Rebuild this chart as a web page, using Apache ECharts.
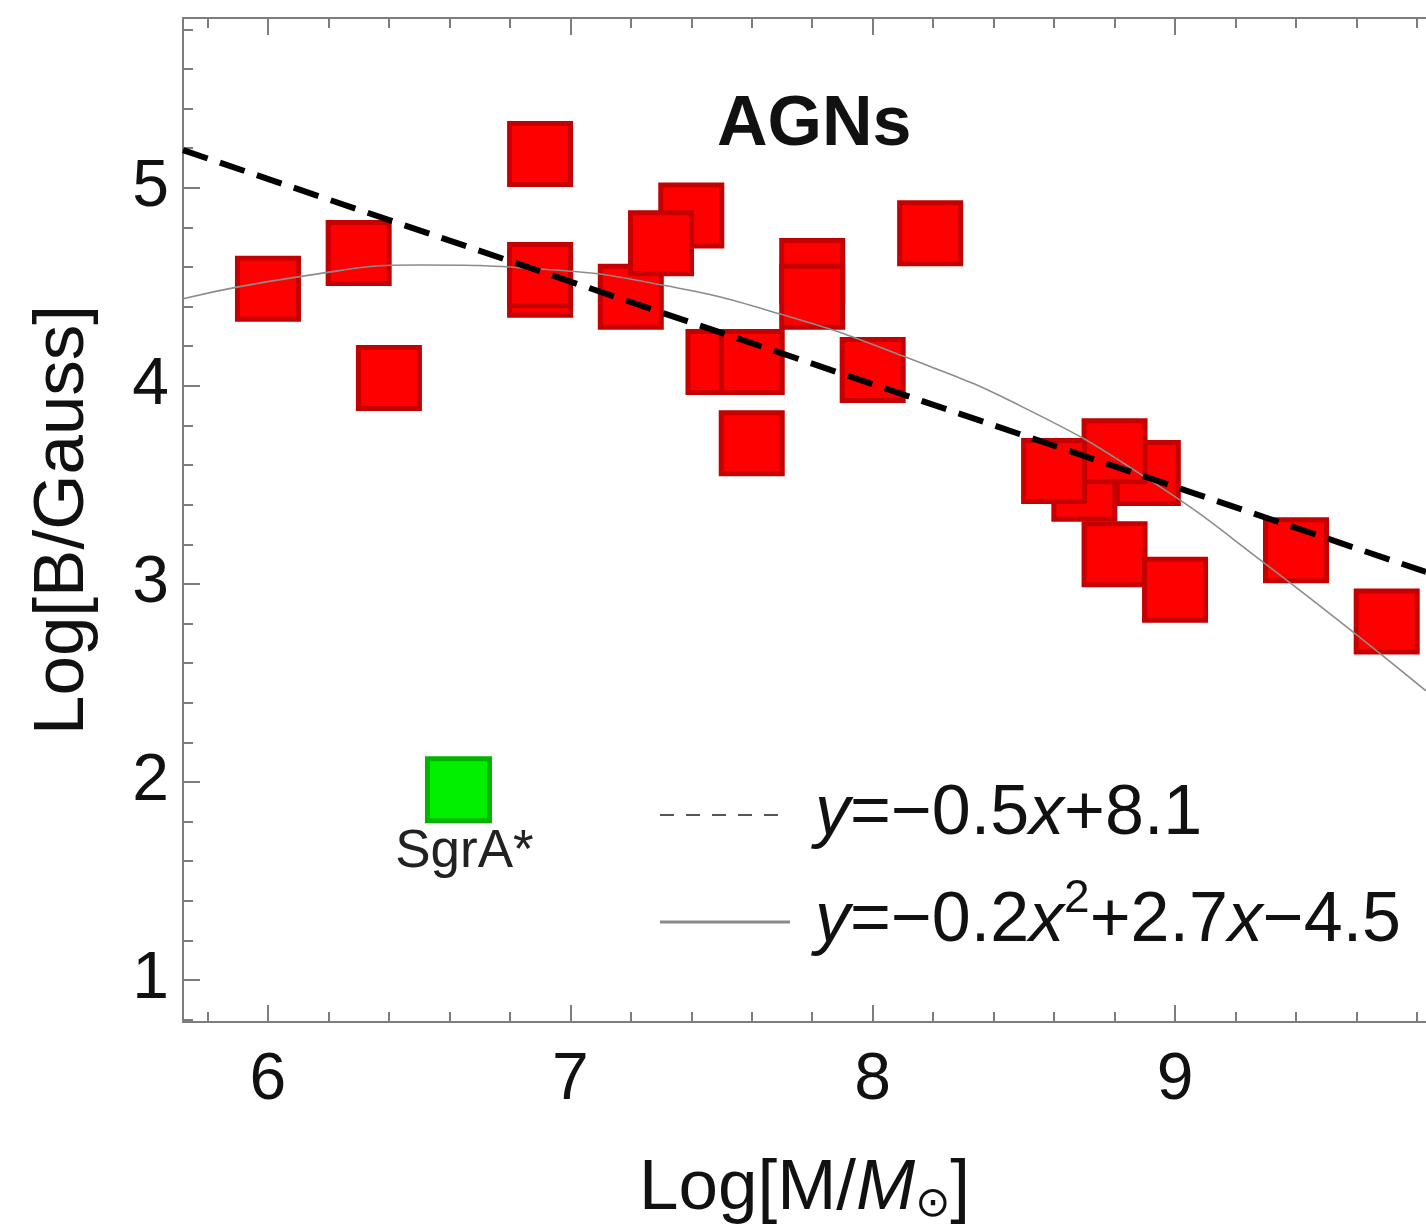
<!DOCTYPE html>
<html>
<head>
<meta charset="utf-8">
<script src="https://cdn.jsdelivr.net/npm/echarts@6/dist/echarts.min.js"></script>
<style>html,body{margin:0;padding:0;background:#fff}#c{width:1426px;height:1231px}</style>
</head>
<body>
<div id="c"></div>
<script>
// ---- data ----
const agnX = [6.00, 6.30, 6.40, 6.90, 6.90, 6.90, 7.40, 7.20, 7.30, 7.49, 7.60, 7.60, 7.80, 7.80, 8.00, 8.19, 8.70, 8.91, 8.80, 8.60, 8.80, 9.00, 9.40, 9.70];
const agnY = [4.49, 4.67, 4.04, 5.17, 4.51, 4.56, 4.86, 4.45, 4.72, 4.12, 4.12, 3.71, 4.58, 4.45, 4.08, 4.77, 3.48, 3.56, 3.67, 3.57, 3.15, 2.97, 3.17, 2.81];
const sgrX = [6.63];
const sgrY = [1.96];
const linFitX = [5.719, 9.83];
const linFitY = [5.19, 3.06];
const quadFitX = [5.719, 6.1, 6.5, 6.9, 7.3, 7.7, 8.1, 8.5, 8.9, 9.3, 9.83];
const quadFitY = [4.44, 4.55, 4.61, 4.59, 4.51, 4.36, 4.15, 3.89, 3.54, 3.10, 2.46];
const xMajor = [6, 7, 8, 9];
const xMinor = [5.8, 6.2, 6.4, 6.6, 6.8, 7.2, 7.4, 7.6, 7.8, 8.2, 8.4, 8.6, 8.8, 9.2, 9.4, 9.6, 9.8];
const yMajor = [1, 2, 3, 4, 5];
const yMinor = [0.8, 1.2, 1.4, 1.6, 1.8, 2.2, 2.4, 2.6, 2.8, 3.2, 3.4, 3.6, 3.8, 4.2, 4.4, 4.6, 4.8, 5.2, 5.4, 5.6, 5.8];
const XMIN = 5.719, XMAX = 9.83, YMIN = 0.788, YMAX = 5.857;

const FONT = "'Liberation Sans', Arial, sans-serif";
const axisColor = '#7d7d7d';
const zip = (a, b) => a.map((v, i) => [v, b[i]]);

function xAx(pos, vals, len, showLine, labels) {
  return {
    type: 'value', position: pos, min: XMIN, max: XMAX,
    axisLine: { show: showLine, onZero: false, lineStyle: { color: axisColor, width: 2 } },
    axisTick: { show: true, inside: true, length: len, customValues: vals, lineStyle: { color: axisColor, width: 2 } },
    axisLabel: labels ? { show: true, customValues: vals, fontSize: 66, fontFamily: FONT, color: '#111', margin: 26 } : { show: false },
    splitLine: { show: false }
  };
}
function yAx(pos, vals, len, showLine, labels) {
  return {
    type: 'value', position: pos, min: YMIN, max: YMAX,
    axisLine: { show: showLine, onZero: false, lineStyle: { color: axisColor, width: 2 } },
    axisTick: { show: true, inside: true, length: len, customValues: vals, lineStyle: { color: axisColor, width: 2 } },
    axisLabel: labels ? { show: true, customValues: vals, fontSize: 66, fontFamily: FONT, color: '#111', margin: 14 } : { show: false },
    splitLine: { show: false }
  };
}

const xAxes = [xAx('bottom', xMajor, 17, true, true), xAx('bottom', xMinor, 10, false, false),
               xAx('top', xMajor, 17, true, false), xAx('top', xMinor, 10, false, false)];
xAxes[0].name = '{n|Log[M/}{i|M}{s|⊙}{n|]}';
xAxes[0].nameLocation = 'middle';
xAxes[0].nameGap = 130;
xAxes[0].nameTextStyle = {
  rich: {
    n: { fontSize: 71, fontFamily: FONT, color: '#111' },
    i: { fontSize: 71, fontFamily: FONT, fontStyle: 'italic', color: '#111' },
    s: { fontSize: 42, fontFamily: "'DejaVu Sans', sans-serif", color: '#111', padding: [32, 0, 0, 0] }
  }
};
const yAxes = [yAx('left', yMajor, 17, true, true), yAx('left', yMinor, 10, false, false)];
yAxes[0].name = 'Log[B/Gauss]';
yAxes[0].nameLocation = 'middle';
yAxes[0].nameGap = 84;
yAxes[0].nameTextStyle = { fontSize: 71, fontFamily: FONT, color: '#111' };

const legRich = {
  i: { fontSize: 70, fontFamily: FONT, fontStyle: 'italic', fill: '#111' },
  n: { fontSize: 70, fontFamily: FONT, fill: '#111' },
  sup: { fontSize: 46, fontFamily: FONT, fill: '#111', padding: [0, 0, 46, 0] }
};

const option = {
  animation: false,
  backgroundColor: '#fff',
  title: { text: 'AGNs', left: 712, top: 86, textStyle: { fontSize: 70, fontWeight: 'bold', fontFamily: FONT, color: '#111' } },
  grid: { left: 183, right: 0, top: 18, bottom: 206, containLabel: false },
  xAxis: xAxes,
  yAxis: yAxes,
  graphic: [
    { type: 'line', shape: { x1: 660, y1: 815, x2: 790, y2: 815 }, style: { stroke: '#555', lineWidth: 2, lineDash: [14, 12] }, z: 10 },
    { type: 'line', shape: { x1: 660, y1: 922, x2: 790, y2: 922 }, style: { stroke: '#8a8a8a', lineWidth: 3 }, z: 10 },
    { type: 'text', x: 815, y: 815, z: 10, style: { text: '{i|y}{n|=\u22120.5}{i|x}{n|+8.1}', rich: legRich, verticalAlign: 'middle', align: 'left' } },
    { type: 'text', x: 815, y: 922, z: 10, style: { text: '{i|y}{n|=\u22120.2}{i|x}{sup|2}{n|+2.7}{i|x}{n|\u22124.5}', rich: legRich, verticalAlign: 'middle', align: 'left' } }
  ],
  series: [
    {
      name: 'AGN', type: 'scatter', symbol: 'rect', symbolSize: 61, z: 2,
      itemStyle: { color: '#ff0000', borderColor: '#c40000', borderWidth: 5, opacity: 1 },
      data: zip(agnX, agnY)
    },
    {
      name: 'SgrA', type: 'scatter', symbol: 'rect', symbolSize: 62, z: 2,
      itemStyle: { color: '#00f000', borderColor: '#00b400', borderWidth: 5, opacity: 1 },
      label: { show: true, position: 'bottom', distance: 3, formatter: 'SgrA*', fontSize: 53, fontFamily: FONT, color: '#222', offset: [6, 0] },
      data: zip(sgrX, sgrY)
    },
    {
      name: 'quad', type: 'line', smooth: 0.5, showSymbol: false, symbol: 'none', z: 3,
      lineStyle: { color: '#8c8c8c', width: 1.6 },
      data: zip(quadFitX, quadFitY)
    },
    {
      name: 'lin', type: 'line', showSymbol: false, symbol: 'none', z: 4,
      lineStyle: { color: '#000', width: 6, type: [26, 13] },
      data: zip(linFitX, linFitY)
    }
  ]
};
const chart = echarts.init(document.getElementById('c'), null, { renderer: 'canvas' });
chart.setOption(option);
</script>
</body>
</html>
